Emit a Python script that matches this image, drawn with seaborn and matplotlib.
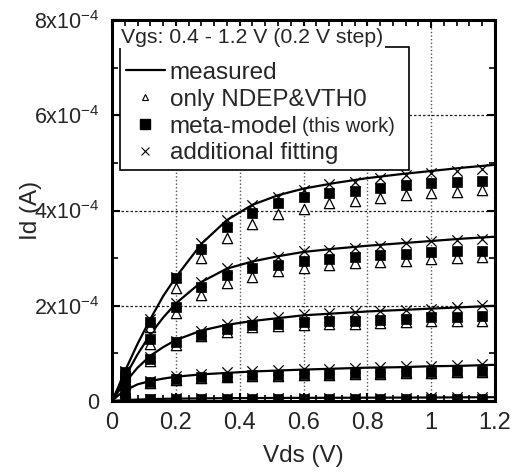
import matplotlib
matplotlib.use("Agg")
import matplotlib.pyplot as plt
import seaborn as sns
import pandas as pd
from matplotlib.lines import Line2D
from matplotlib.ticker import MultipleLocator

sns.set_style("white")
plt.rcParams["font.family"] = ["Liberation Sans", "DejaVu Sans"]
plt.rcParams["mathtext.fontset"] = "custom"
plt.rcParams["mathtext.rm"] = "Liberation Sans"
plt.rcParams["mathtext.it"] = "Liberation Sans:italic"
plt.rcParams["mathtext.bf"] = "Liberation Sans:bold"

# ---------------- data (Id in units of 1e-4 A) ----------------
ID_UNIT = 1e-4
vgs_values = [0.4, 0.6, 0.8, 1.0, 1.2]

vds_meas = [0, 0.02, 0.04, 0.08, 0.12, 0.16, 0.2, 0.28, 0.36, 0.44, 0.52,
            0.6, 0.7, 0.8, 0.9, 1.0, 1.1, 1.2]
meas_04 = [0, 0.01, 0.02, 0.03, 0.04, 0.045, 0.05, 0.055, 0.06, 0.062, 0.064,
           0.066, 0.068, 0.07, 0.072, 0.074, 0.077, 0.08]
meas_06 = [0, 0.12, 0.22, 0.35, 0.42, 0.47, 0.51, 0.56, 0.59, 0.62, 0.64,
           0.66, 0.68, 0.70, 0.71, 0.73, 0.74, 0.76]
meas_08 = [0, 0.2, 0.38, 0.7, 0.95, 1.13, 1.28, 1.48, 1.6, 1.68, 1.74,
           1.8, 1.84, 1.88, 1.91, 1.94, 1.97, 2.0]
meas_10 = [0, 0.25, 0.5, 0.98, 1.4, 1.75, 2.05, 2.5, 2.78, 2.93, 3.04,
           3.13, 3.2, 3.26, 3.31, 3.36, 3.41, 3.45]
meas_12 = [0, 0.3, 0.62, 1.2, 1.72, 2.2, 2.6, 3.3, 3.8, 4.12, 4.32,
           4.46, 4.58, 4.68, 4.76, 4.83, 4.9, 4.96]

vds_sim = [0.04, 0.12, 0.2, 0.28, 0.36, 0.44, 0.52, 0.6, 0.68, 0.76, 0.84,
           0.92, 1.0, 1.08, 1.16]

ndep_04 = [0.02, 0.03, 0.03, 0.03, 0.03, 0.03, 0.03, 0.03, 0.03, 0.03, 0.03,
           0.03, 0.03, 0.03, 0.03]
ndep_06 = [0.19, 0.38, 0.45, 0.48, 0.5, 0.52, 0.53, 0.54, 0.55, 0.56, 0.57,
           0.58, 0.59, 0.60, 0.61]
ndep_08 = [0.35, 0.85, 1.17, 1.36, 1.45, 1.55, 1.58, 1.59, 1.61, 1.62, 1.64,
           1.66, 1.68, 1.68, 1.69]
ndep_10 = [0.45, 1.2, 1.84, 2.22, 2.47, 2.60, 2.73, 2.80, 2.85, 2.90, 2.92,
           2.95, 2.99, 3.01, 3.02]
ndep_12 = [0.55, 1.55, 2.37, 3.0, 3.42, 3.71, 3.92, 4.04, 4.15, 4.20, 4.26,
           4.32, 4.37, 4.39, 4.43]

meta_04 = [0.03, 0.04, 0.04, 0.04, 0.04, 0.04, 0.04, 0.04, 0.04, 0.04, 0.04,
           0.04, 0.04, 0.04, 0.04]
meta_06 = [0.2, 0.4, 0.47, 0.5, 0.51, 0.54, 0.55, 0.56, 0.57, 0.58, 0.59,
           0.60, 0.61, 0.62, 0.63]
meta_08 = [0.38, 0.89, 1.24, 1.38, 1.52, 1.59, 1.62, 1.66, 1.68, 1.69, 1.71,
           1.73, 1.76, 1.76, 1.78]
meta_10 = [0.5, 1.31, 1.97, 2.39, 2.64, 2.79, 2.85, 2.95, 2.99, 3.02, 3.07,
           3.09, 3.13, 3.14, 3.16]
meta_12 = [0.6, 1.65, 2.58, 3.2, 3.65, 3.95, 4.15, 4.28, 4.36, 4.40, 4.47,
           4.53, 4.57, 4.60, 4.62]

fit_04 = [0.04, 0.05, 0.06, 0.06, 0.06, 0.06, 0.07, 0.07, 0.07, 0.07, 0.07,
          0.07, 0.08, 0.08, 0.08]
fit_06 = [0.22, 0.42, 0.52, 0.57, 0.61, 0.63, 0.65, 0.67, 0.68, 0.70, 0.71,
          0.73, 0.74, 0.76, 0.78]
fit_08 = [0.4, 0.93, 1.27, 1.48, 1.62, 1.69, 1.76, 1.83, 1.85, 1.87, 1.89,
          1.92, 1.94, 1.97, 2.01]
fit_10 = [0.52, 1.4, 2.05, 2.50, 2.79, 2.92, 3.02, 3.14, 3.18, 3.22, 3.25,
          3.31, 3.36, 3.39, 3.41]
fit_12 = [0.62, 1.73, 2.60, 3.31, 3.80, 4.11, 4.29, 4.43, 4.55, 4.60, 4.69,
          4.74, 4.79, 4.83, 4.87]

x_ticks = [0, 0.2, 0.4, 0.6, 0.8, 1.0, 1.2]
x_ticklabels = ["0", "0.2", "0.4", "0.6", "0.8", "1", "1.2"]
y_ticks = [0, 2e-4, 4e-4, 6e-4, 8e-4]
y_ticklabels = ["0", r"$\mathregular{2x10^{-4}}$", r"$\mathregular{4x10^{-4}}$",
                r"$\mathregular{6x10^{-4}}$", r"$\mathregular{8x10^{-4}}$"]

legend_title = "Vgs: 0.4 - 1.2 V (0.2 V step)"
labels = ["measured", "only NDEP&VTH0", "meta-model", "additional fitting"]
label_note = "(this work)"

# ---------------- tables ----------------
meas_sets = [meas_04, meas_06, meas_08, meas_10, meas_12]
ndep_sets = [ndep_04, ndep_06, ndep_08, ndep_10, ndep_12]
meta_sets = [meta_04, meta_06, meta_08, meta_10, meta_12]
fit_sets = [fit_04, fit_06, fit_08, fit_10, fit_12]

meas_df = pd.concat([
    pd.DataFrame({"Vgs": g, "Vds": vds_meas, "Id": [v * ID_UNIT for v in m]})
    for g, m in zip(vgs_values, meas_sets)], ignore_index=True)
sim_df = pd.concat([
    pd.DataFrame({"Vgs": g, "Vds": vds_sim,
                  "ndep": [v * ID_UNIT for v in a],
                  "meta": [v * ID_UNIT for v in b],
                  "fit": [v * ID_UNIT for v in c]})
    for g, a, b, c in zip(vgs_values, ndep_sets, meta_sets, fit_sets)],
    ignore_index=True)

# ---------------- figure ----------------
fig = plt.figure(figsize=(5.22, 4.72), dpi=100)
ax = fig.add_axes([0.2146, 0.1504, 0.7337, 0.8072])

sns.lineplot(data=meas_df, x="Vds", y="Id", units="Vgs", estimator=None,
             color="black", lw=1.6, ax=ax, legend=False, zorder=3)
sns.scatterplot(data=sim_df, x="Vds", y="ndep", marker="^", s=55,
                facecolor="white", edgecolor="black", linewidth=0.9,
                ax=ax, legend=False, zorder=4)
sns.scatterplot(data=sim_df, x="Vds", y="meta", marker="s", s=48,
                color="black", edgecolor="black", linewidth=0.5,
                ax=ax, legend=False, zorder=5)
sns.scatterplot(data=sim_df, x="Vds", y="fit", marker="x", s=55,
                color="black", linewidth=0.9, ax=ax, legend=False, zorder=6)

ax.set_xlim(0, 1.2)
ax.set_ylim(0, 8e-4)
ax.set_xticks(x_ticks)
ax.set_xticklabels(x_ticklabels)
ax.set_yticks(y_ticks)
ax.set_yticklabels(y_ticklabels)
ax.xaxis.set_minor_locator(MultipleLocator(0.04))
ax.yaxis.set_minor_locator(MultipleLocator(1e-4))

ax.tick_params(which="both", direction="in", top=True, right=True,
               bottom=True, left=True, color="black")
ax.tick_params(which="major", length=6, width=1.5, pad=8)
ax.tick_params(axis="x", which="major", labelsize=17)
ax.tick_params(axis="y", which="major", labelsize=15.5, pad=9)
ax.tick_params(which="minor", length=4.5, width=1.2)

for sp in ax.spines.values():
    sp.set_linewidth(2.2)
    sp.set_color("black")

ax.set_axisbelow(True)
ax.xaxis.grid(True, which="major", ls=(0, (1, 1.6)), color="#555555", lw=1.0)
ax.yaxis.grid(True, which="major", ls=(0, (2, 1.6)), color="#222222", lw=0.9)

ax.set_xlabel("Vds (V)", fontsize=17.5, labelpad=8)
ax.set_ylabel("Id (A)", fontsize=17.5)
ax.yaxis.set_label_coords(-0.183, 0.5)

handles = [
    Line2D([], [], color="black", lw=1.6),
    Line2D([], [], ls="none", marker="^", ms=5, mfc="white", mec="black", mew=0.8),
    Line2D([], [], ls="none", marker="s", ms=7, mfc="black", mec="black"),
    Line2D([], [], ls="none", marker="x", ms=6, mec="black", mew=0.8),
]
leg = ax.legend(handles, labels, loc="upper left",
                bbox_to_anchor=(0.021, 0.614, 0.754, 0.315), mode="expand",
                borderaxespad=0, fontsize=17.5, frameon=True, fancybox=False,
                edgecolor="black", framealpha=1, handlelength=1.6,
                handletextpad=0.2, borderpad=0.24, labelspacing=0.2,
                title=" ", title_fontsize=3)
leg.get_frame().set_linewidth(1.2)
leg.set_zorder(7)

ax.annotate(label_note, xy=(1, 0), xycoords=leg.get_texts()[2],
            xytext=(3.5, 1.2), textcoords="offset points", ha="left",
            va="bottom", fontsize=14.5, zorder=8)
ax.text(0.0235, 0.955, legend_title, transform=ax.transAxes, ha="left",
        va="center", fontsize=15.3, zorder=9,
        bbox=dict(boxstyle="square,pad=0.08", fc="white", ec="none"))

fig.savefig("out.png", dpi=100)
